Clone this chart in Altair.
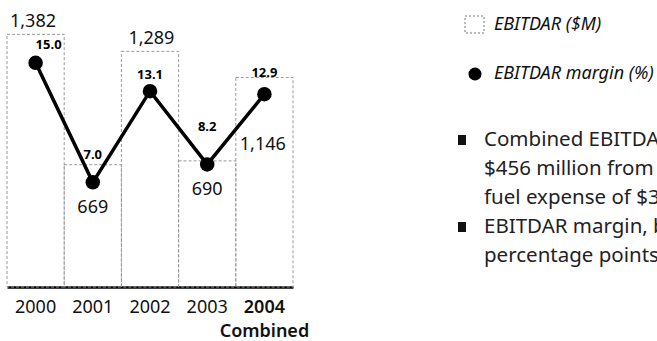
import altair as alt
import pandas as pd

# EBITDAR by year, in $ millions, and EBITDAR margin in percent
years = ["2000", "2001", "2002", "2003", "2004"]
ebitdar = [1382, 669, 1289, 690, 1146]
margin = [15.0, 7.0, 13.1, 8.2, 12.9]

legend_labels = ["EBITDAR ($M)", "EBITDAR margin (%)"]
bullet_one = ["Combined EBITDAR decreased", "$456 million from 2003 as", "fuel expense of $3.1 billion"]
bullet_two = ["EBITDAR margin, based on", "percentage points"]

df = pd.DataFrame({"year": years, "ebitdar": ebitdar, "margin": margin})

FONT = "Noto Sans"
bar_scale = alt.Scale(domain=[0, 1570])
pct_scale = alt.Scale(domain=[0, 19.2])
x_scale = alt.Scale(paddingInner=0, paddingOuter=0)

x_axis = alt.Axis(
    title=None, labelAngle=0, ticks=False, domainColor="#000", domainWidth=2.5,
    labelFont=FONT, labelFontSize=18, labelColor="#111", labelPadding=11,
    labelLineHeight=24,
    labelFontWeight={"condition": {"test": "datum.value == '2004'", "value": 600}, "value": "normal"},
    labelExpr="datum.value == '2004' ? ['2004', 'Combined'] : datum.value",
)

base = alt.Chart(df).encode(x=alt.X("year:N", scale=x_scale, axis=x_axis, sort=years))


def xpos(band):
    return alt.X("year:N", scale=x_scale, axis=x_axis, sort=years, bandPosition=band)


# dashed outline columns for EBITDAR
bars = base.mark_bar(
    fill="white", fillOpacity=0, stroke="#9a9a9a", strokeDash=[3, 2], strokeWidth=1
).encode(y=alt.Y("ebitdar:Q", scale=bar_scale, axis=None))

# margin line with dots
line = base.mark_line(color="#000", strokeWidth=3.5).encode(
    x=xpos(0.5), y=alt.Y("margin:Q", scale=pct_scale, axis=None)
)
dots = base.mark_point(filled=True, color="#000", size=210, opacity=1).encode(
    x=xpos(0.5), y=alt.Y("margin:Q", scale=pct_scale, axis=None)
)


def pick(yr):
    return base.transform_filter(alt.datum.year == yr)


def margin_label(yr, align, dy):
    return pick(yr).mark_text(
        font=FONT, fontSize=13, fontWeight="bold", color="#000",
        align=align, baseline="middle", dy=dy,
    ).encode(
        x=xpos(0.5),
        y=alt.Y("margin:Q", scale=pct_scale, axis=None),
        text=alt.Text("margin:Q", format=".1f"),
    )


def value_above(yr, dx):
    return pick(yr).mark_text(
        font=FONT, fontSize=18, color="#111", align="left", baseline="alphabetic", dx=dx, dy=-7,
    ).encode(
        x=xpos(0),
        y=alt.Y("ebitdar:Q", scale=bar_scale, axis=None),
        text=alt.Text("ebitdar:Q", format=","),
    )


def value_below_dot(yr):
    return pick(yr).mark_text(
        font=FONT, fontSize=18, color="#111", align="center", baseline="middle", dy=26,
    ).encode(
        x=xpos(0.5),
        y=alt.Y("margin:Q", scale=pct_scale, axis=None),
        text=alt.Text("ebitdar:Q", format=","),
    )


value_inside = pick("2004").mark_text(
    font=FONT, fontSize=18, color="#111", align="left", baseline="middle", dx=4, dy=67,
).encode(
    x=xpos(0),
    y=alt.Y("ebitdar:Q", scale=bar_scale, axis=None),
    text=alt.Text("ebitdar:Q", format=","),
)

# legend and commentary to the right of the plot
note = alt.Chart(pd.DataFrame({"k": [0]}))
leg_box = note.mark_rect(
    fill="white", stroke="#777", strokeDash=[2, 2], strokeWidth=1
).encode(x=alt.value(458), x2=alt.value(477), y=alt.value(16), y2=alt.value(33))
leg_dot = note.mark_point(filled=True, color="#000", size=170, shape="circle", opacity=1).encode(
    x=alt.value(468), y=alt.value(74)
)
leg_text1 = note.mark_text(
    font=FONT, fontSize=18, fontStyle="italic", color="#111", align="left", baseline="middle"
).encode(x=alt.value(487), y=alt.value(25), text=alt.value(legend_labels[0]))
leg_text2 = note.mark_text(
    font=FONT, fontSize=18, fontStyle="italic", color="#111", align="left", baseline="middle"
).encode(x=alt.value(487), y=alt.value(74), text=alt.value(legend_labels[1]))

sq1 = note.mark_rect(color="#111").encode(
    x=alt.value(451), x2=alt.value(459), y=alt.value(135), y2=alt.value(145)
)
sq2 = note.mark_rect(color="#111").encode(
    x=alt.value(451), x2=alt.value(459), y=alt.value(222), y2=alt.value(232)
)
para1 = note.mark_text(
    font=FONT, fontSize=20.5, color="#222", align="left", baseline="middle", lineHeight=29
).encode(x=alt.value(477), y=alt.value(140), text=alt.value(bullet_one))
para2 = note.mark_text(
    font=FONT, fontSize=20.5, color="#222", align="left", baseline="middle", lineHeight=29
).encode(x=alt.value(477), y=alt.value(227), text=alt.value(bullet_two))

chart = alt.layer(
    bars, line, dots,
    margin_label("2000", "left", -18),
    margin_label("2001", "center", -27),
    margin_label("2002", "center", -16),
    margin_label("2003", "center", -37),
    margin_label("2004", "center", -21),
    value_above("2000", 3),
    value_above("2002", 7),
    value_below_dot("2001"),
    value_below_dot("2003"),
    value_inside,
    leg_box, leg_dot, leg_text1, leg_text2, sq1, sq2, para1, para2,
).resolve_scale(y="independent").properties(
    width=286, height=287,
    padding={"left": 7, "top": 0, "right": 364, "bottom": 54},
    autosize=alt.AutoSizeParams(type="none"),
).configure(background="white").configure_view(stroke=None)

chart.save("out.html", embed_options={"renderer": "svg", "actions": False})
